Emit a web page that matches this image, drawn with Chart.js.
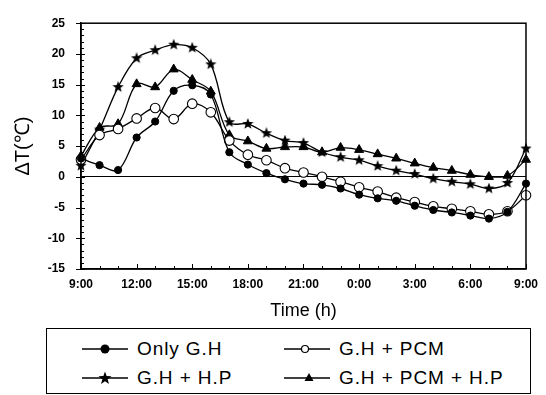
<!DOCTYPE html>
<html lang="en">
<head>
<meta charset="UTF-8">
<title>Temperature difference</title>
<script src="https://cdn.jsdelivr.net/npm/chart.js"></script>
<style>
  body { margin: 0; background: #fff; font-family: Arial, 'Liberation Sans', sans-serif; }
  .wrap { position: relative; width: 546px; height: 395px; overflow: hidden; }
  #chart { position: absolute; left: 0; top: 0; }
  .legend { position: absolute; left: 46px; top: 328px; width: 485px; height: 66px;
            border: 1.5px solid #000; box-sizing: border-box; }
  .item { position: absolute; display: flex; align-items: center; font-size: 19px;
          letter-spacing: 0.9px; line-height: 20px; color: #000; white-space: nowrap; }
  .item svg { margin-right: 9px; }
</style>
</head>
<body>
<div class="wrap">
  <canvas id="chart" width="546" height="328"></canvas>
  <div class="legend">
    <div class="item" style="left:35px; top:10px;">
      <svg width="46" height="14"><line x1="0" y1="7" x2="46" y2="7" stroke="#000" stroke-width="1.3"/><circle cx="23" cy="7" r="4.5" fill="#000"/></svg>Only G.H
    </div>
    <div class="item" style="left:237px; top:10px;">
      <svg width="46" height="14"><line x1="0" y1="7" x2="46" y2="7" stroke="#000" stroke-width="1.3"/><circle cx="21" cy="7" r="3.5" fill="#fff" stroke="#000" stroke-width="1.2"/></svg>G.H + PCM
    </div>
    <div class="item" style="left:35px; top:39px;">
      <svg width="46" height="14"><line x1="0" y1="7" x2="46" y2="7" stroke="#000" stroke-width="1.3"/><polygon points="23,0.5 24.6,5 29.5,5.2 25.6,8.2 27,13 23,10.2 19,13 20.4,8.2 16.5,5.2 21.4,5" fill="#000"/></svg>G.H + H.P
    </div>
    <div class="item" style="left:237px; top:39px;">
      <svg width="46" height="14"><line x1="0" y1="7" x2="46" y2="7" stroke="#000" stroke-width="1.3"/><polygon points="25,2 29.5,10 20.5,10" fill="#000"/></svg>G.H + PCM + H.P
    </div>
  </div>
</div>
<script>
  // Time axis: hourly readings from 9:00 to 9:00 the next day
  const timeLabels = ['9:00', '10:00', '11:00', '12:00', '13:00', '14:00', '15:00', '16:00',
    '17:00', '18:00', '19:00', '20:00', '21:00', '22:00', '23:00', '0:00', '1:00', '2:00',
    '3:00', '4:00', '5:00', '6:00', '7:00', '8:00', '9:00'];

  // Temperature difference (deg C)
  const onlyGH = [3.0, 1.9, 1.1, 6.4, 9.0, 14.0, 14.9, 13.4, 4.0, 2.0, 0.6, -0.4, -1.1,
    -1.3, -1.9, -2.9, -3.5, -3.9, -4.7, -5.4, -5.8, -6.3, -6.8, -5.7, -1.1];
  const ghPCM = [2.8, 6.8, 7.8, 9.5, 11.2, 9.4, 11.9, 10.5, 5.9, 3.6, 2.7, 1.4, 0.7,
    0.0, -0.8, -1.7, -2.4, -3.4, -4.1, -4.8, -5.2, -5.6, -6.1, -5.6, -3.0];
  const ghHP = [1.8, 7.7, 14.6, 19.3, 20.6, 21.5, 21.0, 18.3, 8.9, 8.6, 7.1, 5.9, 5.5,
    4.0, 3.2, 2.7, 1.75, 1.0, 0.45, -0.3, -0.8, -1.2, -1.9, -1.0, 4.6];
  const ghPCMHP = [3.4, 8.0, 8.6, 15.1, 14.6, 17.5, 15.8, 13.9, 6.8, 5.8, 4.6, 4.85, 4.85,
    4.0, 4.75, 4.4, 3.7, 3.0, 2.2, 1.5, 1.0, 0.35, 0.0, 0.2, 2.8];

  // small filled star used as point marker
  function starImage(size) {
    const c = document.createElement('canvas');
    c.width = c.height = size;
    const g = c.getContext('2d');
    const cx = size / 2, cy = size / 2, ro = size / 2, ri = ro * 0.42;
    g.beginPath();
    for (let k = 0; k < 10; k++) {
      const r = k % 2 ? ri : ro;
      const a = -Math.PI / 2 + k * Math.PI / 5;
      g.lineTo(cx + r * Math.cos(a), cy + r * Math.sin(a));
    }
    g.closePath();
    g.fillStyle = '#000';
    g.fill();
    return c;
  }

  // box frame + minor/major tick marks
  const framePlugin = {
    id: 'frame',
    afterDraw(chart) {
      const { ctx, chartArea: a, scales } = chart;
      ctx.save();
      ctx.strokeStyle = '#000';
      ctx.lineWidth = 1.5;
      ctx.strokeRect(a.left, a.top, a.right - a.left, a.bottom - a.top);
      ctx.lineWidth = 1;
      ctx.beginPath();
      for (let v = -15; v <= 25; v++) {
        const py = Math.round(scales.y.getPixelForValue(v)) + 0.5;
        if (v % 5 === 0) { ctx.moveTo(a.left - 5, py); ctx.lineTo(a.left + 4, py); }
        else { ctx.moveTo(a.left, py); ctx.lineTo(a.left + 3, py); }
      }
      for (let i = 0; i < timeLabels.length; i++) {
        const px = Math.round(scales.x.getPixelForValue(i)) + 0.5;
        const len = i % 3 === 0 ? 5 : 3;
        ctx.moveTo(px, a.bottom); ctx.lineTo(px, a.bottom - len);
      }
      ctx.stroke();
      ctx.restore();
    }
  };

  const tickFont = { family: 'Arial', size: 12, weight: 'bold' };

  new Chart(document.getElementById('chart'), {
    type: 'line',
    data: {
      labels: timeLabels,
      datasets: [
        { label: 'Only G.H', data: onlyGH, pointStyle: 'circle', pointRadius: 3.6,
          pointBackgroundColor: '#000', pointBorderColor: '#000' },
        { label: 'G.H + PCM', data: ghPCM, pointStyle: 'circle', pointRadius: 4.8,
          pointBackgroundColor: '#fff', pointBorderColor: '#000', pointBorderWidth: 1.1 },
        { label: 'G.H + H.P', data: ghHP, pointStyle: starImage(12), pointRadius: 6 },
        { label: 'G.H + PCM + H.P', data: ghPCMHP, pointStyle: 'triangle', pointRadius: 5.2,
          pointBackgroundColor: '#000', pointBorderColor: '#000' }
      ]
    },
    options: {
      responsive: false,
      animation: false,
      devicePixelRatio: 1,
      layout: { padding: { left: 0, right: 15, top: 11, bottom: 0 } },
      plugins: { legend: { display: false }, tooltip: { enabled: false } },
      elements: { line: { tension: 0.35, borderWidth: 1.3, borderColor: '#000', fill: false } },
      scales: {
        x: {
          type: 'category',
          offset: false,
          grid: { display: false, drawTicks: false },
          border: { display: true, color: '#000', width: 1.5 },
          ticks: {
            autoSkip: false, maxRotation: 0, padding: 8, color: '#000', font: tickFont,
            callback: (v, i) => (i % 3 === 0 ? timeLabels[i] : '')
          },
          title: { display: true, text: 'Time (h)', color: '#000',
                   font: { family: 'Arial', size: 18 }, padding: { top: 0, bottom: 6 } },
          afterFit: s => { s.height = 59; }
        },
        y: {
          min: -15, max: 25,
          grid: { drawTicks: false, lineWidth: 1,
                  color: c => (c.tick && c.tick.value === 0 ? '#000' : 'rgba(0,0,0,0)') },
          border: { display: true, color: '#000', width: 1.5 },
          ticks: { stepSize: 5, padding: 16, color: '#000', font: tickFont },
          title: { display: true, text: 'ΔT(℃)', color: '#000',
                   font: { family: 'Arial', size: 20 }, padding: { top: 11, bottom: 0 } },
          afterFit: s => { s.width = 81; }
        }
      }
    },
    plugins: [framePlugin]
  });
</script>
</body>
</html>
